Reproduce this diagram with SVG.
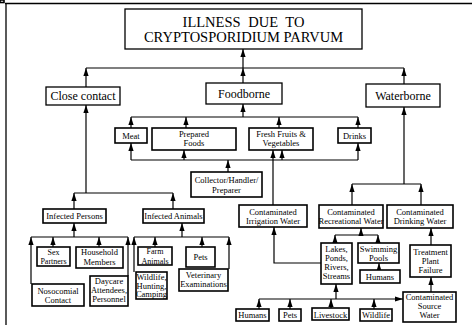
<svg xmlns="http://www.w3.org/2000/svg" width="472" height="325" viewBox="0 0 472 325">
<style>
text{font-family:"Liberation Serif","Times New Roman",serif;fill:#000;text-anchor:middle}
.t{font-size:14.5px}
.m{font-size:12px}
.s{font-size:8.5px}
.x{font-size:8px}
rect{fill:#fff;stroke:#000;stroke-width:1.6}
.big rect{stroke-width:1.3}
#connectors path{fill:none;stroke:#000;stroke-width:1.2}
.frame{stroke:#000;fill:none}
</style>
<defs>
<marker id="a" viewBox="0 0 8 6" refX="8" refY="3" markerWidth="8" markerHeight="6" orient="auto" markerUnits="userSpaceOnUse">
<path d="M0,0.4 L8,3 L0,5.6 z" fill="#000"/>
</marker>
</defs>
<rect x="0" y="0" width="4" height="2.5" fill="#000" stroke="none"/>
<path class="frame" d="M5,3.5 H472" stroke-width="1.6"/>
<path class="frame" d="M6,3.5 V325" stroke-width="1.3"/>

<g id="connectors">
<path d="M86,87 V68" marker-end="url(#a)"/>
<path d="M86,68 H404"/>
<path d="M404,84 V68" marker-end="url(#a)"/>
<path d="M243,83 V68" marker-end="url(#a)"/>
<path d="M243,68 V49" marker-end="url(#a)"/>
<path d="M86,193 V105" marker-end="url(#a)"/>
<path d="M74,193 H173"/>
<path d="M74,209 V193" marker-end="url(#a)"/>
<path d="M173,209 V193" marker-end="url(#a)"/>
<path d="M31,237 H128"/>
<path d="M74,237 V223" marker-end="url(#a)"/>
<path d="M31,284 V237" marker-end="url(#a)"/>
<path d="M53,247 V237" marker-end="url(#a)"/>
<path d="M99,247 V237" marker-end="url(#a)"/>
<path d="M128,276 V237" marker-end="url(#a)"/>
<path d="M134,237 H229"/>
<path d="M182,237 V223" marker-end="url(#a)"/>
<path d="M134,272 V237" marker-end="url(#a)"/>
<path d="M155,247 V237" marker-end="url(#a)"/>
<path d="M202,247 V237" marker-end="url(#a)"/>
<path d="M229,269 V237" marker-end="url(#a)"/>
<path d="M131,117 H358"/>
<path d="M243,117 V104" marker-end="url(#a)"/>
<path d="M131,128 V117" marker-end="url(#a)"/>
<path d="M186,128 V117" marker-end="url(#a)"/>
<path d="M279,128 V117" marker-end="url(#a)"/>
<path d="M358,128 V117" marker-end="url(#a)"/>
<path d="M131,160 H358"/>
<path d="M228,172 V160" marker-end="url(#a)"/>
<path d="M131,160 V143" marker-end="url(#a)"/>
<path d="M184,160 V150" marker-end="url(#a)"/>
<path d="M282,160 V150" marker-end="url(#a)"/>
<path d="M358,160 V143" marker-end="url(#a)"/>
<path d="M273,205 V150" marker-end="url(#a)"/>
<path d="M404,184 V107" marker-end="url(#a)"/>
<path d="M352,184 H421"/>
<path d="M352,205 V184" marker-end="url(#a)"/>
<path d="M421,205 V184" marker-end="url(#a)"/>
<path d="M335,235 H378"/>
<path d="M361,235 V228" marker-end="url(#a)"/>
<path d="M335,243 V235" marker-end="url(#a)"/>
<path d="M378,243 V235" marker-end="url(#a)"/>
<path d="M379,270 V263" marker-end="url(#a)"/>
<path d="M321,263 H274 V227" marker-end="url(#a)"/>
<path d="M431,245 V228" marker-end="url(#a)"/>
<path d="M431,292 V277" marker-end="url(#a)"/>
<path d="M259,299 H403" marker-end="url(#a)"/>
<path d="M259,309 V299" marker-end="url(#a)"/>
<path d="M290,309 V299" marker-end="url(#a)"/>
<path d="M331,308 V299" marker-end="url(#a)"/>
<path d="M374,309 V299" marker-end="url(#a)"/>
<path d="M336,299 V284" marker-end="url(#a)"/>
</g>

<g id="title" class="big"><rect x="125" y="9" width="237" height="40"/>
<text class="t" x="243.5" y="27" word-spacing="4">ILLNESS DUE TO</text>
<text class="t" x="243.5" y="42">CRYPTOSPORIDIUM PARVUM</text></g>
<g id="close" class="big"><rect x="46" y="87" width="74" height="18"/><text class="m" x="83" y="100">Close contact</text></g>
<g id="foodborne" class="big"><rect x="206" y="83" width="76" height="21"/><text class="m" x="244" y="98">Foodborne</text></g>
<g id="waterborne" class="big"><rect x="366" y="84" width="74" height="23"/><text class="m" x="403" y="100">Waterborne</text></g>

<g id="meat"><rect x="115" y="128" width="32" height="15"/><text class="s" x="131" y="139">Meat</text></g>
<g id="prepared"><rect x="152" y="128" width="84" height="22"/><text class="s" x="194" y="137">Prepared</text><text class="s" x="194" y="146">Foods</text></g>
<g id="fresh"><rect x="249" y="128" width="64" height="22"/><text class="s" x="281" y="137">Fresh Fruits &amp;</text><text class="s" x="281" y="146">Vegetables</text></g>
<g id="drinks"><rect x="338" y="128" width="33" height="15"/><text class="s" x="354.5" y="139">Drinks</text></g>
<g id="collector"><rect x="191" y="172" width="71" height="25"/><text class="s" x="226.5" y="183">Collector/Handler/</text><text class="s" x="226.5" y="193">Preparer</text></g>

<g id="persons"><rect x="43" y="209" width="63" height="14"/><text class="s" x="74.5" y="219">Infected Persons</text></g>
<g id="animals"><rect x="143" y="209" width="61" height="14"/><text class="s" x="173.5" y="219">Infected Animals</text></g>

<g id="irrigation"><rect x="239" y="205" width="68" height="22"/><text class="s" x="273" y="215">Contaminated</text><text class="s" x="273" y="224">Irrigation Water</text></g>
<g id="recreational"><rect x="319" y="205" width="64" height="23"/><text class="s" x="351" y="215">Contaminated</text><text class="s" x="351" y="224">Recreational Water</text></g>
<g id="drinking"><rect x="387" y="205" width="66" height="23"/><text class="s" x="420" y="215">Contaminated</text><text class="s" x="420" y="224">Drinking Water</text></g>

<g id="sex"><rect x="37" y="247" width="33" height="19"/><text class="x" x="53.5" y="254.5">Sex</text><text class="x" x="53.5" y="264">Partners</text></g>
<g id="household"><rect x="76" y="247" width="47" height="21"/><text class="s" x="99.5" y="255">Household</text><text class="s" x="99.5" y="264.5">Members</text></g>
<g id="nosocomial"><rect x="32" y="284" width="52" height="22"/><text class="s" x="58" y="294">Nosocomial</text><text class="s" x="58" y="303">Contact</text></g>
<g id="daycare"><rect x="90" y="276" width="38" height="30"/><text class="s" x="109" y="284">Daycare</text><text class="s" x="109" y="293">Attendees,</text><text class="s" x="109" y="302">Personnel</text></g>

<g id="farm"><rect x="138" y="247" width="34" height="18"/><text class="x" x="155" y="254">Farm</text><text class="x" x="155" y="263.5">Animals</text></g>
<g id="pets1"><rect x="186" y="247" width="29" height="20"/><text class="s" x="200.5" y="260">Pets</text></g>
<g id="wildlife1"><rect x="136" y="272" width="31" height="27"/><text class="s" x="151.5" y="280">Wildlife,</text><text class="s" x="151.5" y="288.5">Hunting,</text><text class="s" x="151.5" y="297">Camping</text></g>
<g id="veterinary"><rect x="179" y="269" width="49" height="22"/><text class="s" x="203.5" y="278">Veterinary</text><text class="s" x="203.5" y="287">Examinations</text></g>

<g id="lakes"><rect x="321" y="243" width="31" height="41"/><text class="s" x="336.5" y="252">Lakes,</text><text class="s" x="336.5" y="261">Ponds,</text><text class="s" x="336.5" y="270">Rivers,</text><text class="s" x="336.5" y="279">Streams</text></g>
<g id="pools"><rect x="358" y="243" width="41" height="20"/><text class="s" x="378.5" y="252">Swimming</text><text class="s" x="378.5" y="261">Pools</text></g>
<g id="humans2"><rect x="360" y="270" width="40" height="13"/><text class="s" x="380" y="280">Humans</text></g>
<g id="treatment"><rect x="410" y="245" width="41" height="32"/><text class="s" x="430.5" y="255">Treatment</text><text class="s" x="430.5" y="264">Plant</text><text class="s" x="430.5" y="273">Failure</text></g>
<g id="source"><rect x="403" y="292" width="53" height="30"/><text class="s" x="429.5" y="300">Contaminated</text><text class="s" x="429.5" y="309">Source</text><text class="s" x="429.5" y="318">Water</text></g>

<g id="humans1"><rect x="236" y="309" width="33" height="12"/><text class="s" x="252.5" y="318">Humans</text></g>
<g id="pets2"><rect x="279" y="309" width="22" height="12"/><text class="s" x="290" y="318">Pets</text></g>
<g id="livestock"><rect x="312" y="308" width="37" height="12"/><text class="s" x="330.5" y="317.5">Livestock</text></g>
<g id="wildlife2"><rect x="360" y="309" width="32" height="12"/><text class="s" x="376" y="318">Wildlife</text></g>
</svg>
